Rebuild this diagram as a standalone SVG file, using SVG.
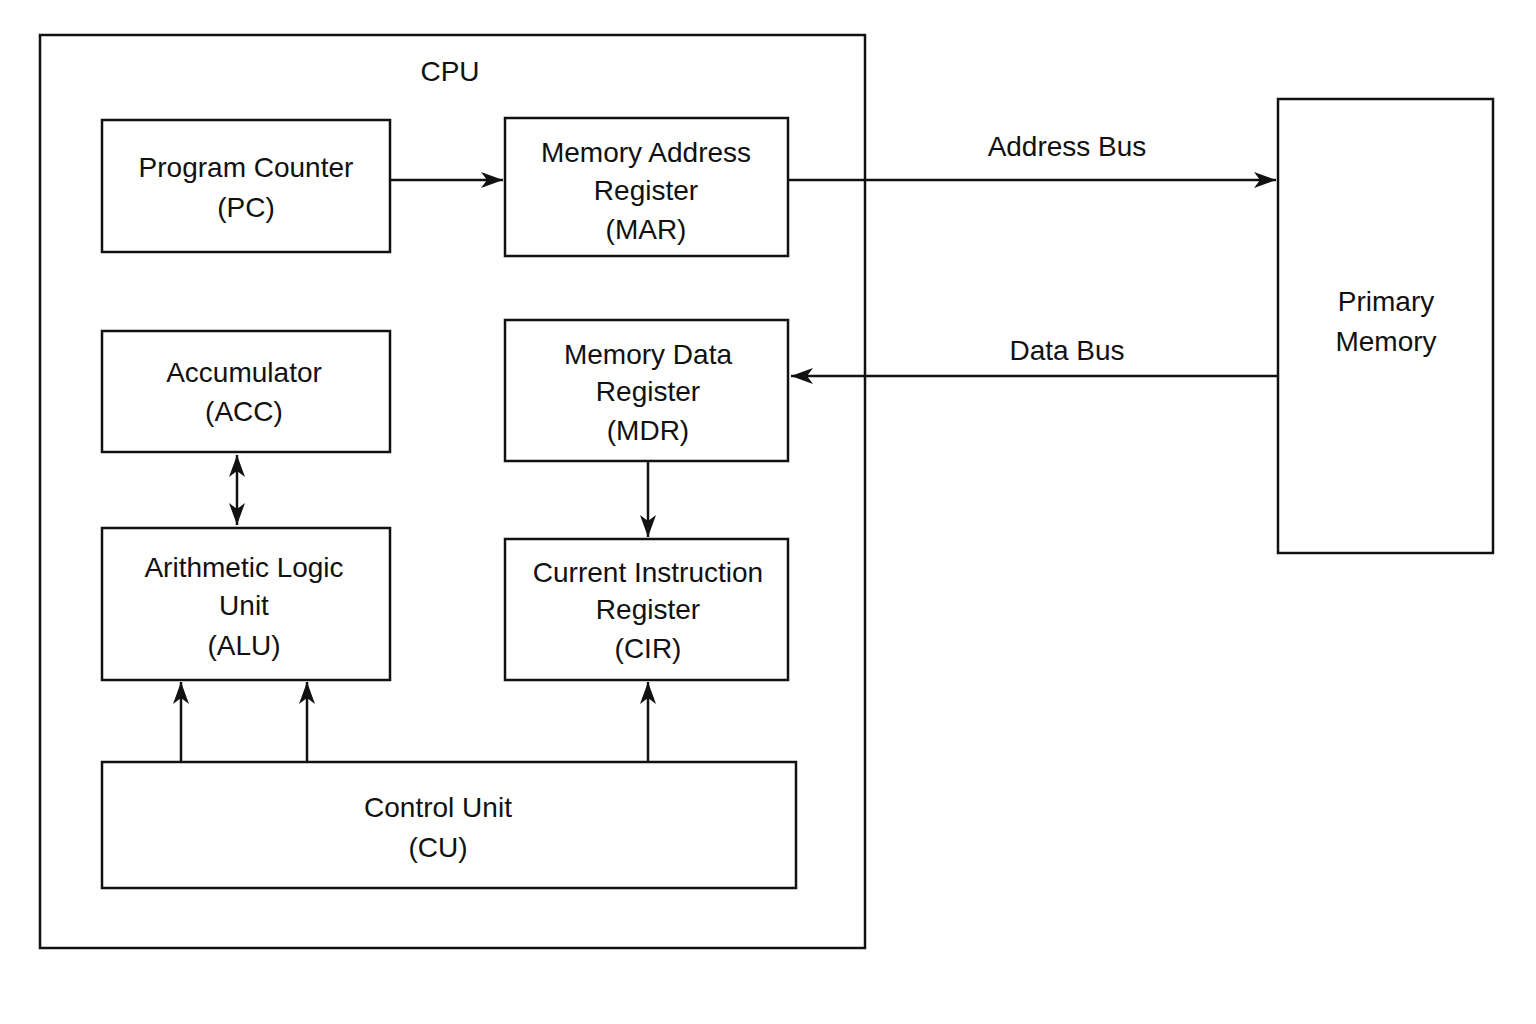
<svg xmlns="http://www.w3.org/2000/svg" width="1536" height="1024" viewBox="0 0 1536 1024">
<style>
.b{fill:#fff;stroke:#111;stroke-width:2.5}
.t{font-family:"Liberation Sans",Arial,sans-serif;font-size:28px;fill:#111;text-anchor:middle}
.c{stroke:#111;stroke-width:2.5;fill:none}
</style>
<defs>
<marker id="a" viewBox="0 0 22 16" refX="22" refY="8" markerWidth="22" markerHeight="16" markerUnits="userSpaceOnUse" orient="auto-start-reverse"><path d="M0,0 L22,8 L0,16 L6,8 z" fill="#111"/></marker>
</defs>
<rect width="1536" height="1024" fill="#fff"/>
<g id="cpu"><rect class="b" x="40" y="35" width="825" height="913"/><text class="t" x="450" y="81">CPU</text></g>
<g id="pc"><rect class="b" x="102" y="120" width="288" height="132"/><text class="t" x="246" y="177">Program Counter</text><text class="t" x="246" y="217">(PC)</text></g>
<g id="mar"><rect class="b" x="505" y="118" width="283" height="138"/><text class="t" x="646" y="162">Memory Address</text><text class="t" x="646" y="200">Register</text><text class="t" x="646" y="239">(MAR)</text></g>
<g id="acc"><rect class="b" x="102" y="331" width="288" height="121"/><text class="t" x="244" y="382">Accumulator</text><text class="t" x="244" y="421">(ACC)</text></g>
<g id="mdr"><rect class="b" x="505" y="320" width="283" height="141"/><text class="t" x="648" y="364">Memory Data</text><text class="t" x="648" y="401">Register</text><text class="t" x="648" y="440">(MDR)</text></g>
<g id="alu"><rect class="b" x="102" y="528" width="288" height="152"/><text class="t" x="244" y="577">Arithmetic Logic</text><text class="t" x="244" y="615">Unit</text><text class="t" x="244" y="655">(ALU)</text></g>
<g id="cir"><rect class="b" x="505" y="539" width="283" height="141"/><text class="t" x="648" y="582">Current Instruction</text><text class="t" x="648" y="619">Register</text><text class="t" x="648" y="658">(CIR)</text></g>
<g id="cu"><rect class="b" x="102" y="762" width="694" height="126"/><text class="t" x="438" y="817">Control Unit</text><text class="t" x="438" y="857">(CU)</text></g>
<g id="pm"><rect class="b" x="1278" y="99" width="215" height="454"/><text class="t" x="1386" y="311">Primary</text><text class="t" x="1386" y="351">Memory</text></g>
<g id="connectors">
<line class="c" x1="390" y1="180" x2="503" y2="180" marker-end="url(#a)"/>
<line class="c" x1="788" y1="180" x2="1276" y2="180" marker-end="url(#a)"/>
<text class="t" x="1067" y="156">Address Bus</text>
<line class="c" x1="1278" y1="376" x2="791" y2="376" marker-end="url(#a)"/>
<text class="t" x="1067" y="360">Data Bus</text>
<line class="c" x1="237" y1="455" x2="237" y2="525" marker-start="url(#a)" marker-end="url(#a)"/>
<line class="c" x1="648" y1="461" x2="648" y2="537" marker-end="url(#a)"/>
<line class="c" x1="181" y1="762" x2="181" y2="682" marker-end="url(#a)"/>
<line class="c" x1="307" y1="762" x2="307" y2="682" marker-end="url(#a)"/>
<line class="c" x1="648" y1="762" x2="648" y2="682" marker-end="url(#a)"/>
</g>
</svg>
